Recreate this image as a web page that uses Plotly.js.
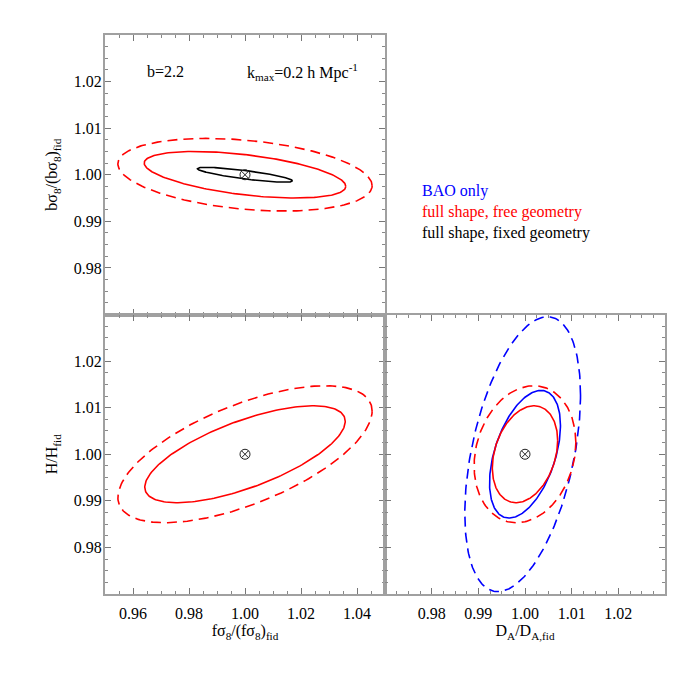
<!DOCTYPE html>
<html>
<head>
<meta charset="utf-8">
<script src="https://cdn.plot.ly/plotly-3.0.1.min.js"></script>
<style>html,body{margin:0;padding:0;background:#fff;}#chart{width:700px;height:700px;}</style>
</head>
<body>
<div id="chart"></div>
<script>
// ---- data ----
const seriesNames = ['BAO only', 'full shape, free geometry', 'full shape, fixed geometry'];
// panels: 0 = fσ8 vs bσ8 (top-left), 1 = fσ8 vs H (bottom-left), 2 = D_A vs H (bottom-right)
const ellPanel   = [0, 0, 0, 1, 1, 2, 2, 2, 2];
const ellSeries  = [1, 1, 2, 1, 1, 0, 0, 1, 1];
const ellContour = ['inner', 'outer', 'inner', 'inner', 'outer', 'inner', 'outer', 'inner', 'outer'];
const ellCenterX = [1.000, 1.000, 1.000, 1.000, 1.000, 1.000, 0.9995, 1.000, 1.000];
const ellCenterY = [1.000, 1.000, 1.000, 1.000, 1.000, 1.000, 1.000, 1.000, 1.000];
const ellHalfW   = [0.0360, 0.0454, 0.0170, 0.0358, 0.0454, 0.0076, 0.0124, 0.0070, 0.0109];
const ellHalfH   = [0.0050, 0.0078, 0.0016, 0.0104, 0.0147, 0.0137, 0.0295, 0.0104, 0.0147];
const ellCorr    = [-0.50, -0.30, -0.82, 0.68, 0.63, 0.45, 0.43, 0.28, 0.17];
const fiducialX  = [1.00, 1.00, 1.00];
const fiducialY  = [1.00, 1.00, 1.00];
const fs8Ticks = [0.96, 0.98, 1.00, 1.02, 1.04];
const daTicks  = [0.98, 0.99, 1.00, 1.01, 1.02];
const yTicks   = [0.98, 0.99, 1.00, 1.01, 1.02];

// ---- styles ----
const seriesColor = ['#0000ff', '#ff0000', '#000000'];
const contourDash = {inner: 'solid', outer: '10px,6px'};
const axisRefs = [['x', 'y'], ['x2', 'y2'], ['x3', 'y3']];
const FONT = 'Liberation Serif, Times New Roman, serif';

const traces = [];
const nPts = 241;
for (let i = 0; i < ellPanel.length; i++) {
  const xs = [], ys = [];
  const r = ellCorr[i], s = Math.sqrt(1 - r * r);
  for (let k = 0; k < nPts; k++) {
    const t = 2 * Math.PI * k / (nPts - 1);
    xs.push(ellCenterX[i] + ellHalfW[i] * Math.cos(t));
    ys.push(ellCenterY[i] + ellHalfH[i] * (r * Math.cos(t) + s * Math.sin(t)));
  }
  const [xa, ya] = axisRefs[ellPanel[i]];
  traces.push({
    type: 'scatter', mode: 'lines', x: xs, y: ys, xaxis: xa, yaxis: ya,
    line: {color: seriesColor[ellSeries[i]], width: 1.6, dash: contourDash[ellContour[i]]},
    hoverinfo: 'skip', showlegend: false
  });
}
for (let p = 0; p < 3; p++) {
  const [xa, ya] = axisRefs[p];
  traces.push({
    type: 'scatter', mode: 'markers', x: [fiducialX[p]], y: [fiducialY[p]], xaxis: xa, yaxis: ya,
    marker: {symbol: 'circle-x-open', size: 10, color: '#222', line: {width: 1, color: '#222'}},
    hoverinfo: 'skip', showlegend: false
  });
}

function axisBase(range, ticks, minorDtick, showLabels, standoff) {
  return {
    range: range, autorange: false, tickmode: 'array', tickvals: ticks,
    ticktext: ticks.map(v => v.toFixed(2)), showticklabels: showLabels,
    ticks: 'inside', ticklen: 6, tickwidth: 1, tickcolor: '#777',
    ticklabelstandoff: standoff,
    minor: {ticks: 'inside', ticklen: 3, tickwidth: 1, tickcolor: '#888', dtick: minorDtick, tick0: 0},
    showline: true, linecolor: '#a0a0a0', linewidth: 2, mirror: 'ticks',
    showgrid: false, zeroline: false,
    tickfont: {family: FONT, size: 16, color: '#000'}, fixedrange: true
  };
}

const titleFont = {family: FONT, size: 16, color: '#000'};
const layout = {
  width: 700, height: 700,
  margin: {l: 105, r: 35, t: 35, b: 106},
  paper_bgcolor: '#fff', plot_bgcolor: '#fff',
  showlegend: false,
  xaxis: Object.assign(axisBase([0.95, 1.05], fs8Ticks, 0.005, false, 0), {domain: [0, 0.5], anchor: 'y'}),
  yaxis: Object.assign(axisBase([0.97, 1.03], yTicks, 0.0025, true, -2), {domain: [0.5, 1], anchor: 'x',
    title: {text: 'bσ<sub>8</sub>/(bσ<sub>8</sub>)<sub>fid</sub>', font: titleFont, standoff: 12}}),
  xaxis2: Object.assign(axisBase([0.95, 1.05], fs8Ticks, 0.005, true, 4), {domain: [0, 0.5], anchor: 'y2',
    title: {text: 'fσ<sub>8</sub>/(fσ<sub>8</sub>)<sub>fid</sub>', font: titleFont, standoff: 4}}),
  yaxis2: Object.assign(axisBase([0.97, 1.03], yTicks, 0.0025, true, -2), {domain: [0, 0.5], anchor: 'x2',
    title: {text: 'H/H<sub>fid</sub>', font: titleFont, standoff: 12}}),
  xaxis3: Object.assign(axisBase([0.97, 1.03], daTicks, 0.0025, true, 4), {domain: [0.5, 1], anchor: 'y3',
    title: {text: 'D<sub>A</sub>/D<sub>A,fid</sub>', font: titleFont, standoff: 4}}),
  yaxis3: Object.assign(axisBase([0.97, 1.03], yTicks, 0.0025, false, 0), {domain: [0, 0.5], anchor: 'x3'}),
  annotations: [
    {text: 'b=2.2', xref: 'paper', yref: 'paper', x: 0.1086, y: 0.934, xanchor: 'center', yanchor: 'middle',
     showarrow: false, font: {family: FONT, size: 16, color: '#000'}},
    {text: 'k<sub>max</sub>=0.2 h Mpc<sup>-1</sup>', xref: 'paper', yref: 'paper', x: 0.25, y: 0.934,
     xanchor: 'left', yanchor: 'middle', showarrow: false, font: {family: FONT, size: 16, color: '#000'}},
    {text: seriesNames[0], xref: 'paper', yref: 'paper', x: 0.5625, y: 0.721, xanchor: 'left', yanchor: 'middle',
     showarrow: false, font: {family: FONT, size: 16, color: seriesColor[0]}},
    {text: seriesNames[1], xref: 'paper', yref: 'paper', x: 0.5625, y: 0.684, xanchor: 'left', yanchor: 'middle',
     showarrow: false, font: {family: FONT, size: 16, color: seriesColor[1]}},
    {text: seriesNames[2], xref: 'paper', yref: 'paper', x: 0.5625, y: 0.646, xanchor: 'left', yanchor: 'middle',
     showarrow: false, font: {family: FONT, size: 16, color: seriesColor[2]}}
  ]
};

Plotly.newPlot('chart', traces, layout, {staticPlot: true, displayModeBar: false});
</script>
</body>
</html>
